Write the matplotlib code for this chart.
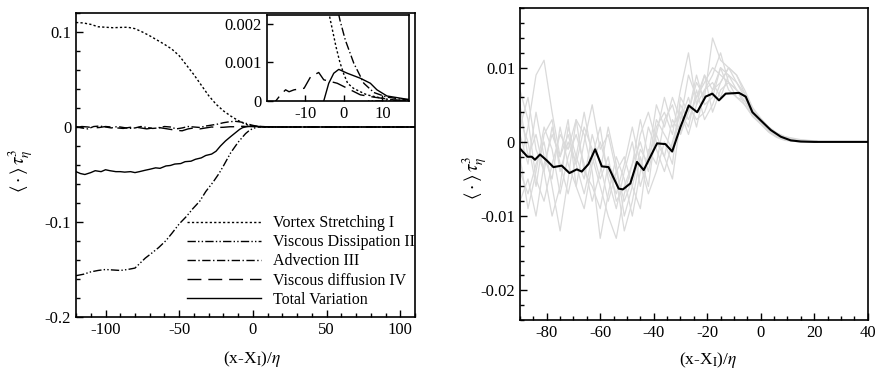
import matplotlib
matplotlib.use("Agg")
import matplotlib.pyplot as plt
import numpy as np
from matplotlib.ticker import MultipleLocator, FuncFormatter

plt.rcParams["font.family"] = ["Liberation Serif", "DejaVu Serif"]
plt.rcParams["mathtext.fontset"] = "stix"
plt.rcParams["axes.unicode_minus"] = False

# ---- left panel: budget terms ----
vs_x = [-120, -115, -110, -105, -100, -95, -90, -85, -80, -75, -70, -65, -60, -55, -50, -45, -40, -35, -30,
        -25, -20, -15, -10, -7, -5, -3.7, -2, -1, 0, 1, 2.5, 4.3, 6, 8.6, 11, 15, 110]
vs_y = [0.110, 0.1095, 0.108, 0.1055, 0.105, 0.1045, 0.1048, 0.105, 0.1035, 0.100, 0.096, 0.0915, 0.087, 0.082,
        0.075, 0.065, 0.055, 0.044, 0.033, 0.024, 0.017, 0.0115, 0.0068, 0.0045, 0.0031, 0.0022, 0.0014, 0.0010,
        0.0007, 0.00046, 0.00033, 0.00024, 0.00016, 0.0001, 0.00005, 0, 0]

vd_x = [-120, -115, -110, -105, -100, -95, -90, -85, -80, -77, -73, -68, -64, -59, -55, -50, -45, -41, -36, -32,
        -27, -23, -20, -15, -10, -5, -2.7, 0, 3, 6, 110]
vd_y = [-0.1565, -0.155, -0.1525, -0.151, -0.150, -0.1505, -0.151, -0.150, -0.1485, -0.144, -0.138, -0.132,
        -0.127, -0.1196, -0.112, -0.102, -0.094, -0.0864, -0.078, -0.068, -0.058, -0.049, -0.041, -0.027, -0.016,
        -0.007, -0.004, -0.0015, -0.0003, 0, 0]

ad_x = [-120, -116, -112, -108, -104, -100, -96, -92, -88, -84, -80, -76, -72, -68, -64, -60, -56, -52, -48, -44,
        -40, -36, -32, -28, -24, -20, -16, -12, -8, -5, -2.5, -1, 0.4, 2.6, 5.2, 7.8, 11.2, 15.5, 20, 110]
ad_y = [0.5, -1.0, -2.0, 0.5, 1.0, 0, -1.0, 0.5, -0.5, -1.5, -1.0, 0.5, -0.5, -1.5, -1.0, 0.5, 0, -2.0, -1.0, 0.5,
        0, -0.5, 1.0, 2.0, 3.0, 4.5, 5.5, 6.0, 5.2, 4.0, 2.8, 2.1, 1.58, 0.98, 0.46, 0.22, 0.10, 0.04, 0, 0]  # x1e-3

df_x = [-120, -116, -112, -108, -104, -100, -96, -92, -88, -84, -80, -76, -72, -68, -64, -60, -56, -52, -48, -44,
        -40, -36, -32, -28, -24, -20, -16.4, -15.1, -14.2, -12.9, -10.3, -8.6, -6.5, -5.2, -1.7, 1.7, 4.3, 7.8,
        12.9, 20, 110]
df_y = [-0.5, 0.5, 0, -1.0, -0.5, 0.5, 0, -1.0, -1.5, -0.5, 0, -1.0, -2.0, -1.0, -0.5, -1.5, -2.5, -3.5, -4.0,
        -2.0, -1.0, -2.0, -1.0, 0, -0.5, -0.3, 0.16, 0.29, 0.24, 0.29, 0.33, 0.63, 0.74, 0.55, 0.46, 0.29, 0.16,
        0.10, 0.03, 0, 0]  # x1e-3

tv_x = [-120, -117, -114, -110, -107, -103, -100, -97, -93, -90, -87, -83, -80, -77, -73, -70, -66, -63, -59, -56,
        -53, -49, -46, -42, -39, -35, -32, -28, -25, -22, -18.6, -15, -11.8, -9, -7, -5.2, -3.9, -2.6, -1.3, 0.9,
        4.3, 6.9, 8.6, 11.2, 15.5, 20, 110]
tv_y = [-0.047, -0.049, -0.050, -0.048, -0.046, -0.047, -0.045, -0.046, -0.047, -0.047, -0.0475, -0.047, -0.048,
        -0.047, -0.0455, -0.0445, -0.043, -0.0435, -0.041, -0.0405, -0.039, -0.0385, -0.0365, -0.036, -0.034,
        -0.0325, -0.030, -0.0285, -0.0255, -0.020, -0.0147, -0.010, -0.006, -0.0025, -0.0007, 0.0, 0.00046,
        0.00072, 0.00082, 0.00072, 0.00059, 0.00046, 0.00029, 0.00013, 0.00006, 0, 0]

labels = ["Vortex Stretching I", "Viscous Dissipation II", "Advection III", "Viscous diffusion IV", "Total Variation"]

# ---- right panel: individual realisations (grey) and mean (black), values x1e-3 ----
g_x = [-90, -87, -84, -81, -78, -75, -72, -69, -66, -63, -60, -57, -54, -51, -48, -45, -42, -39, -36, -33,
       -30, -27, -24, -21, -18, -15, -12, -9, -6, -3, 0, 3, 6, 9, 12, 15, 18, 21]
g1 = [-3, 2, 9, 11, 4, -2, 1, -3, 2, -1, -5, -2, -8, -6, -3, 0, -4, 1, -2, -5, 3, 9, 6, 8, 10, 9, 8, 7, 6, 4.0,
      2.8, 1.7, 0.9, 0.4, 0.2, 0.1, 0, 0]
g2 = [7, 3, -5, -8, -3, 1, -1, 3, -4, -6, -9, -3, -5, -12, -8, -2, -6, 2, 4, 1, 7, 12, 5, 9, 7, 10, 9, 8, 6.5,
      4.3, 3.0, 1.8, 1.0, 0.5, 0.25, 0.1, 0.05, 0]
g3 = [5, -2, 1, -4, -10, -6, 2, -2, -5, 1, -3, -8, -4, -2, -6, -9, -1, -3, 3, 5, 1, 4, 8, 6, 14, 11, 10, 9, 7,
      4.6, 3.2, 2.0, 1.2, 0.7, 0.4, 0.25, 0.15, 0.05]
g4 = [-4, -7, -3, 0, -6, -12, -5, 3, 1, -4, -13, -7, -2, -5, -10, -4, 2, -1, -4, 0, 4, 2, 7, 3, 5, 8, 10, 8, 6,
      4.0, 2.7, 1.6, 0.8, 0.3, 0.1, 0, 0, 0]
g5 = [2, 6, -1, -4, 2, -3, -7, -2, 4, -2, -6, -10, -13, -7, -3, 3, -2, 5, 2, 6, 3, 6, 2, 7, 8, 6, 9, 7, 5.5,
      3.8, 2.6, 1.5, 0.8, 0.4, 0.3, 0.2, 0.1, 0]
g6 = [-8, -5, -10, -3, 1, -2, 3, -6, -9, -3, 0, -4, -7, -3, 2, -3, -7, -4, 0, -3, 6, 4, 9, 5, 6, 10, 7, 6, 5.5,
      3.6, 2.5, 1.4, 0.7, 0.3, 0.1, 0, 0, 0]
g7 = [1, -3, 4, -2, -5, 2, -3, -6, 0, 5, -1, 1, -4, -8, -5, 1, 4, 0, -2, 3, 1, 5, 3, 4, 7, 8, 10, 9, 6.5, 4.2,
      3.0, 2.0, 1.2, 0.7, 0.5, 0.3, 0.2, 0.1]
g8 = [-2, -9, -4, 2, -1, -7, -2, 1, -3, -8, -4, 2, -3, -10, -6, -1, -3, 3, 1, -1, 5, 3, 6, 9, 4, 7, 8, 7, 5,
      3.4, 2.4, 1.3, 0.6, 0.2, 0.1, 0, 0, 0]
g9 = [3, 0, -6, 1, 3, -4, 0, -3, -7, -2, 2, -5, -9, -4, 0, -6, -2, 1, 6, 2, 4, 1, 5, 7, 9, 12, 8, 6, 5, 3.5,
      2.5, 1.4, 0.7, 0.4, 0.2, 0.1, 0, 0]

bk_x = [-90, -87.2, -85.6, -84.4, -82.5, -80, -77.5, -74.4, -71.5, -68.75, -66.9, -64.4, -61.9, -59.4, -56.9,
        -53.1, -51.5, -48.75, -46.25, -43.75, -38.75, -35.6, -33.1, -30, -26.9, -23.75, -20.6, -18.1, -15.6,
        -13.1, -8.1, -5.6, -3.1, 0, 3.75, 7.5, 11.25, 15, 20, 40]
bk_y = [-0.9, -2.0, -2.0, -2.4, -1.7, -2.5, -3.4, -3.2, -4.2, -3.7, -4.0, -3.0, -1.0, -3.3, -3.4, -6.3, -6.4,
        -5.6, -2.7, -3.8, -0.2, -0.3, -1.3, 2.0, 4.9, 4.0, 6.1, 6.5, 5.6, 6.5, 6.6, 6.1, 4.0, 2.9, 1.6, 0.7, 0.2,
        0.05, 0, 0]

styles = [dict(dashes=(1.6, 1.6)), dict(dashes=(6, 1.6, 1, 1.6, 1, 1.6)), dict(dashes=(6, 1.8, 1, 1.8)),
          dict(dashes=(10, 5)), dict(linestyle="-")]


def fmt(v, pos):
    return "%g" % (round(v, 6) + 0.0)


def style_axes(ax, fs=12):
    ax.tick_params(which="both", direction="in", top=False, right=False, labelsize=fs, width=1)
    ax.tick_params(which="major", length=5)
    ax.tick_params(which="minor", length=3)
    for s in ax.spines.values():
        s.set_linewidth(1.2)
    ax.yaxis.set_major_formatter(FuncFormatter(fmt))
    ax.xaxis.set_major_formatter(FuncFormatter(fmt))


fig = plt.figure(figsize=(8.77, 3.69), dpi=100)
axL = fig.add_axes([0.0867, 0.1409, 0.3865, 0.8239])
axR = fig.add_axes([0.5929, 0.1328, 0.3965, 0.8447])
axI = fig.add_axes([0.3041, 0.7263, 0.1626, 0.233])

series = [(vs_x, np.array(vs_y)), (vd_x, np.array(vd_y)), (ad_x, np.array(ad_y) * 1e-3),
          (df_x, np.array(df_y) * 1e-3), (tv_x, np.array(tv_y))]
for (x, y), st, lab in zip(series, styles, labels):
    axL.plot(x, y, color="black", lw=1.0, label=lab, **st)
    axI.plot(x, y, color="black", lw=1.0, **st)

axL.set_xlim(-120, 110)
axL.set_ylim(-0.2, 0.12)
axL.xaxis.set_major_locator(MultipleLocator(50))
axL.xaxis.set_minor_locator(MultipleLocator(10))
axL.yaxis.set_major_locator(MultipleLocator(0.1))
axL.yaxis.set_minor_locator(MultipleLocator(0.02))
style_axes(axL)
axL.set_xlabel(r"(x-X$_{\rm I}$)/$\eta$", fontsize=12.5)
axL.set_ylabel(r"$\langle\cdot\rangle\,\tau_{\eta}^{3}$", fontsize=13.5)
axL.yaxis.set_label_coords(-0.12, 0.48)
axL.xaxis.set_label_coords(0.52, -0.105)
axL.xaxis.label.set_va("top")
axL.legend(loc="lower left", bbox_to_anchor=(0.328, 0.03), frameon=False, fontsize=11.5, handlelength=4.6,
           handletextpad=0.75, labelspacing=0.2, borderpad=0, borderaxespad=0)

axI.set_xlim(-20, 17)
axI.set_ylim(0, 0.00223)
axI.set_xticks([-10, 0, 10])
axI.set_yticks([0, 0.001, 0.002])
style_axes(axI)
axI.tick_params(which="major", length=4)

gcol = "#dadada"
for g in [g1, g2, g3, g4, g5, g6, g7, g8, g9]:
    axR.plot(g_x, np.array(g) * 1e-3, color=gcol, lw=0.9, zorder=1)
axR.plot(bk_x, np.array(bk_y) * 1e-3, color="black", lw=1.5, zorder=3)
axR.set_xlim(-90, 40)
axR.set_ylim(-0.024, 0.018)
axR.xaxis.set_major_locator(MultipleLocator(20))
axR.xaxis.set_minor_locator(MultipleLocator(5))
axR.yaxis.set_major_locator(MultipleLocator(0.01))
axR.yaxis.set_minor_locator(MultipleLocator(0.002))
style_axes(axR)
axR.set_xlabel(r"(x-X$_{\rm I}$)/$\eta$", fontsize=12.5)
axR.set_ylabel(r"$\langle\cdot\rangle\,\tau_{\eta}^{3}$", fontsize=13.5)
axR.yaxis.set_label_coords(-0.09, 0.455)
axR.xaxis.set_label_coords(0.54, -0.095)
axR.xaxis.label.set_va("top")

fig.savefig("out.png", dpi=100)
